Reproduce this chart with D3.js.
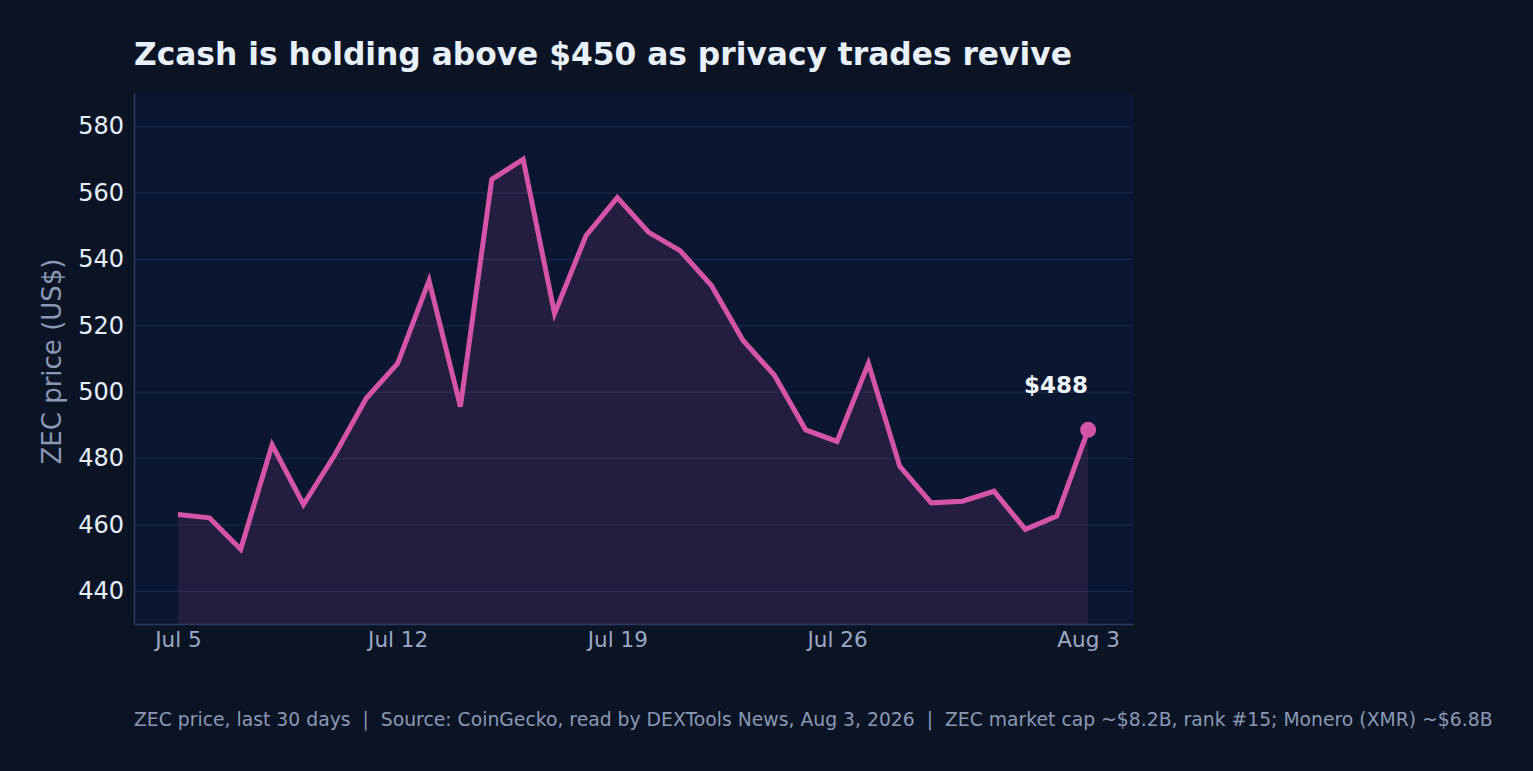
<!DOCTYPE html>
<html>
<head>
<meta charset="utf-8">
<script src="https://cdn.jsdelivr.net/npm/d3@7/dist/d3.min.js"></script>
<style>
  html, body { margin: 0; padding: 0; background: #0a1424; }
  svg { display: block; font-family: "DejaVu Sans", sans-serif; }
</style>
</head>
<body>
<div id="chart"></div>
<script>
(function() {
    'use strict';

    // data
    var dates = ['2026-07-05','2026-07-06','2026-07-07','2026-07-08','2026-07-09','2026-07-10',
                 '2026-07-11','2026-07-12','2026-07-13','2026-07-14','2026-07-15','2026-07-16',
                 '2026-07-17','2026-07-18','2026-07-19','2026-07-20','2026-07-21','2026-07-22',
                 '2026-07-23','2026-07-24','2026-07-25','2026-07-26','2026-07-27','2026-07-28',
                 '2026-07-29','2026-07-30','2026-07-31','2026-08-01','2026-08-02','2026-08-03'];
    var prices = [463, 462, 452.5, 484, 466, 481, 498, 508.5, 533.5, 495.5, 564, 570,
                  523.5, 547, 558.5, 548, 542.5, 532, 515.5, 505, 488.5, 485, 508.5, 477.5,
                  466.5, 467, 470, 458.5, 462.5, 488.5];
    var yTicks = [440, 460, 480, 500, 520, 540, 560, 580];
    var xTickDates = ['2026-07-05', '2026-07-12', '2026-07-19', '2026-07-26', '2026-08-03'];
    var lastLabel = '$488';

    var W = 1533, H = 771;
    var m = { left: 134, right: 400, top: 93, bottom: 147 };
    var iw = W - m.left - m.right, ih = H - m.top - m.bottom;

    var parse = d3.utcParse('%Y-%m-%d');
    var rows = dates.map(function(d, i) { return { date: parse(d), value: prices[i] }; });
    var DAY = 864e5;

    var x = d3.scaleUtc()
        .domain([new Date(rows[0].date - 1.4 * DAY), new Date(+rows[rows.length - 1].date + 1.43 * DAY)])
        .range([0, iw]);
    var y = d3.scaleLinear().domain([430, 590]).range([ih, 0]);

    var svg = d3.select('#chart').append('svg')
        .attr('width', W).attr('height', H);

    svg.append('rect').attr('width', W).attr('height', H).attr('fill', '#0a1424');

    var g = svg.append('g').attr('transform', 'translate(' + m.left + ',' + m.top + ')');

    // plot panel
    g.append('rect').attr('width', iw).attr('height', ih).attr('fill', '#0b1730');

    // grid
    g.append('g')
        .call(d3.axisLeft(y).tickValues(yTicks).tickSize(-iw).tickFormat(''))
        .call(function(s) {
            s.select('.domain').remove();
            s.selectAll('line').attr('stroke', '#1d2c4e').attr('stroke-width', 1);
        });

    // area + line
    var area = d3.area()
        .x(function(d) { return x(d.date); })
        .y0(ih)
        .y1(function(d) { return y(d.value); });
    var line = d3.line()
        .x(function(d) { return x(d.date); })
        .y(function(d) { return y(d.value); });

    g.append('path').datum(rows).attr('d', area)
        .attr('fill', '#d455a8').attr('fill-opacity', 0.12);
    g.append('path').datum(rows).attr('d', line)
        .attr('fill', 'none').attr('stroke', '#d455a8')
        .attr('stroke-width', 5).attr('stroke-linejoin', 'miter');

    var last = rows[rows.length - 1];
    g.append('circle')
        .attr('cx', x(last.date)).attr('cy', y(last.value)).attr('r', 8)
        .attr('fill', '#d455a8');
    g.append('text')
        .attr('x', x(last.date) - 32).attr('y', y(last.value) - 37)
        .attr('text-anchor', 'middle')
        .attr('fill', '#eef3fc').attr('font-size', 23).attr('font-weight', 'bold')
        .text(lastLabel);

    // axes
    var yAxis = g.append('g')
        .call(d3.axisLeft(y).tickValues(yTicks).tickSize(0).tickPadding(10));
    yAxis.select('.domain').attr('stroke', '#2c3b62').attr('stroke-width', 1.5);
    yAxis.selectAll('text').attr('fill', '#e6eefa').attr('font-size', 24)
        .attr('font-family', '"DejaVu Sans", sans-serif');

    var xAxis = g.append('g').attr('transform', 'translate(0,' + ih + ')')
        .call(d3.axisBottom(x).tickValues(xTickDates.map(parse)).tickSize(0).tickPadding(8)
            .tickFormat(d3.utcFormat('%b %-d')));
    xAxis.select('.domain').attr('stroke', '#2c3b62').attr('stroke-width', 1.5);
    xAxis.selectAll('text').attr('fill', '#9aa8c6').attr('font-size', 21.5)
        .attr('font-family', '"DejaVu Sans", sans-serif');

    // labels
    svg.append('text')
        .attr('transform', 'translate(61,' + (m.top + ih / 2 + 3) + ') rotate(-90)')
        .attr('text-anchor', 'middle')
        .attr('fill', '#8a98b6').attr('font-size', 26)
        .text('ZEC price (US$)');

    svg.append('text')
        .attr('x', 134).attr('y', 65)
        .attr('fill', '#e8f0fc').attr('font-size', 31.3).attr('font-weight', 'bold')
        .text('Zcash is holding above $450 as privacy trades revive');

    svg.append('text')
        .attr('x', 134).attr('y', 726)
        .attr('fill', '#8a98b6').attr('font-size', 18.8)
        .text('ZEC price, last 30 days  |  Source: CoinGecko, read by DEXTools News, Aug 3, 2026  |  ZEC market cap ~$8.2B, rank #15; Monero (XMR) ~$6.8B')
        .style('white-space', 'pre');
})();
</script>
</body>
</html>
